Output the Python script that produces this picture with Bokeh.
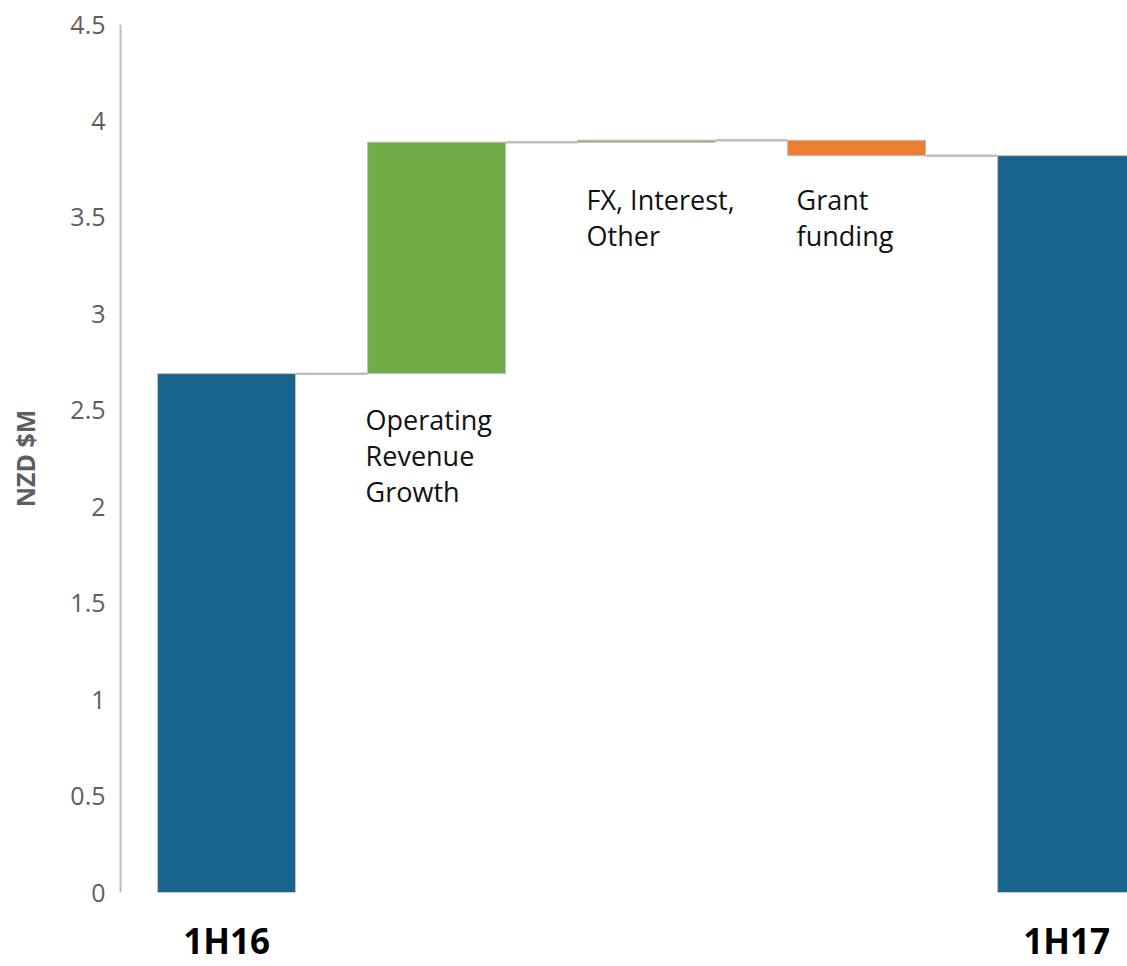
from bokeh.plotting import figure
from bokeh.models import ColumnDataSource, Range1d, FixedTicker, CustomJSTickFormatter
from bokeh.core.properties import value
from bokeh.embed import file_html
from bokeh.resources import INLINE

# ---------------- data ----------------
categories = ["1H16", "Operating Revenue Growth", "FX, Interest, Other", "Grant funding", "1H17"]
kinds = ["total", "delta", "delta", "delta", "total"]
amounts = [2.69, 1.20, 0.01, -0.08, 3.82]
annotation_texts = ["", "Operating\nRevenue\nGrowth", "FX, Interest,\nOther", "Grant\nfunding", ""]
category_labels = ["1H16", "", "", "", "1H17"]
y_ticks = [0, 0.5, 1, 1.5, 2, 2.5, 3, 3.5, 4, 4.5]
y_title = "NZD $M"

# ---------------- styles / layout ----------------
BLUE = "#17648D"
GREEN = "#70AD47"
ORANGE = "#ED7D31"
GREY = "#BFBFBF"
TEXT_GREY = "#5E5E5E"
BAR_W = 0.657
X_START, X_END = -0.505, 4.290
ann_dx = [0, -2, 9, 9, 0]      # px offset of annotation from bar's left edge
ann_dy = [0, 46, 57, 44, 0]    # px from bar bottom to first line
ann_line = 36                  # px line spacing

# ---------------- compute waterfall ----------------
xs, bottoms, tops, colors, ends = [], [], [], [], []
running = 0.0
for i, (k, a) in enumerate(zip(kinds, amounts)):
    if k == "total":
        b, t = 0.0, a
        running = a
        c = BLUE
    else:
        start = running
        running = running + a
        b, t = min(start, running), max(start, running)
        c = GREEN if a >= 0 else ORANGE
    xs.append(i)
    bottoms.append(b)
    tops.append(t)
    colors.append(c)
    ends.append(running)

bars = ColumnDataSource(dict(x=xs, bottom=bottoms, top=tops, color=colors, name=categories))

conn = ColumnDataSource(dict(
    x0=[i + BAR_W / 2 for i in range(len(xs) - 1)],
    x1=[i + 1 - BAR_W / 2 for i in range(len(xs) - 1)],
    y=[ends[i] for i in range(len(xs) - 1)],
))

ax, ay, at, axo, ayo = [], [], [], [], []
for i, txt in enumerate(annotation_texts):
    if not txt:
        continue
    for j, line in enumerate(txt.split("\n")):
        ax.append(i - BAR_W / 2)
        ay.append(bottoms[i])
        at.append(line)
        axo.append(ann_dx[i])
        ayo.append(ann_dy[i] + j * ann_line)
ann = ColumnDataSource(dict(x=ax, y=ay, text=at, xo=axo, yo=ayo))

# ---------------- figure ----------------
W, H, LEFT = 1127, 966, 120
p = figure(width=W, height=H, output_backend="svg", toolbar_location=None,
           x_range=Range1d(X_START, X_END), y_range=Range1d(y_ticks[0], y_ticks[-1]),
           min_border_left=LEFT, min_border_right=0, min_border_top=24, min_border_bottom=74)
p.outline_line_color = None
p.xgrid.visible = False
p.ygrid.visible = False

xax = p.xaxis[0]
xax.ticker = FixedTicker(ticks=xs)
xax.formatter = CustomJSTickFormatter(args=dict(labels=category_labels),
                                      code="return labels[Math.round(tick)] || '';")
xax.axis_line_color = None
xax.major_tick_line_color = None
xax.minor_tick_line_color = None
xax.major_tick_out = 0
xax.major_label_standoff = 24
xax.major_label_text_font = "Open Sans"
xax.major_label_text_font_size = "35px"
xax.major_label_text_font_style = "bold"
xax.major_label_text_color = "#000000"

yax = p.yaxis[0]
yax.ticker = FixedTicker(ticks=y_ticks)
yax.formatter = CustomJSTickFormatter(code="return tick.toString();")
yax.major_tick_line_color = None
yax.minor_tick_line_color = None
yax.major_tick_out = 0
yax.axis_line_color = GREY
yax.axis_line_width = 2
yax.major_label_text_font = "Open Sans"
yax.major_label_text_font_size = "25px"
yax.major_label_text_color = TEXT_GREY
yax.major_label_standoff = 15
yax.axis_label = y_title
yax.axis_label_text_font = "Open Sans"
yax.axis_label_text_font_size = "25px"
yax.axis_label_text_font_style = "bold"
yax.axis_label_text_color = TEXT_GREY
yax.axis_label_standoff = 25

p.segment(x0="x0", y0="y", x1="x1", y1="y", source=conn, line_color=GREY, line_width=2.5)
p.vbar(x="x", width=BAR_W, bottom="bottom", top="top", source=bars,
       fill_color="color", line_color=GREY, line_width=1)

p.text(x="x", y="y", text="text", x_offset="xo", y_offset="yo", source=ann,
       text_font=value("Open Sans"), text_font_size="27px", text_color="#111111",
       text_align="left", text_baseline="alphabetic")

open("out.html", "w").write(file_html(p, INLINE))
